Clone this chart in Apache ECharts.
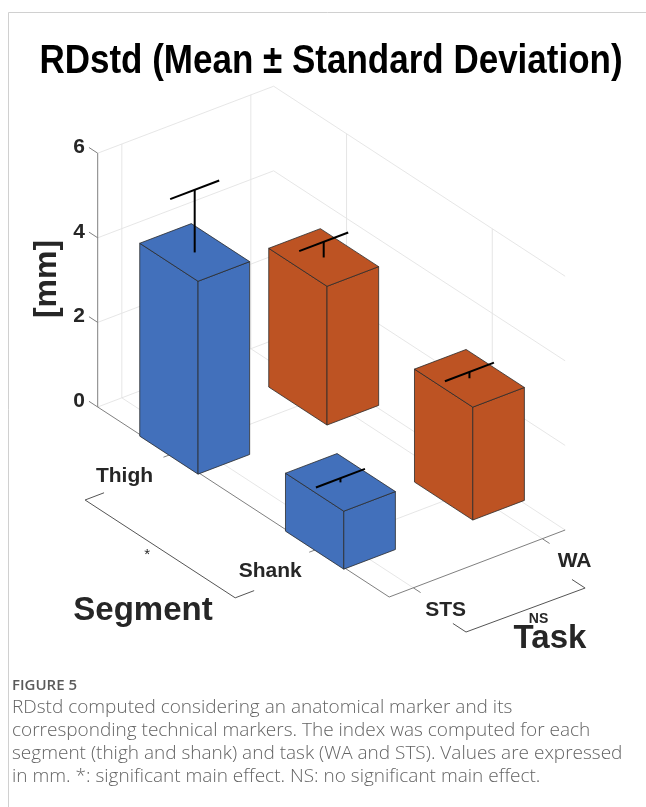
<!DOCTYPE html>
<html>
<head>
<meta charset="utf-8">
<script src="https://cdn.jsdelivr.net/npm/echarts@6/dist/echarts.min.js"></script>
<style>
  html, body { margin: 0; padding: 0; background: #fff; }
  #chart { width: 646px; height: 807px; }
</style>
</head>
<body>
<div id="chart"></div>
<script>
// ---- data -------------------------------------------------------------
const segments = ['Thigh', 'Shank'];
const tasks = ['STS', 'WA'];
// RDstd [mm]: mean and standard deviation, one entry per segment
const meanSTS = [4.56, 1.37];
const meanWA = [3.28, 2.67];
const sdSTS = [1.48, 0.10];
const sdWA = [0.37, 0.15];
const zTicks = [0, 2, 4, 6];

// ---- styling / layout -----------------------------------------------
const taskColors = ['#4270BB', '#BD5323'];
const AX_FONT = "'Liberation Sans', Arial, Helvetica, sans-serif";
const CAP_FONT = "'Open Sans', 'Noto Sans', sans-serif";
const TXT = '#262626';
const GRID_COLOR = '#e3e3e3';
const AXIS_COLOR = '#808080';

// 3D box: segment index runs front-left, task index runs back-right
const S_LIM = [0.5, 2.5];
const T_LIM = [0.813, 2.177];
const Z_LIM = [0, 6];
const BAR_W = 0.4;
const CAP_HALF = 0.19;
// screen offset of one unit step along each horizontal axis, in z units (x right, y up)
const S_VEC = [3.4456, -2.2459];
const T_VEC = [3.0496, 1.1608];
function proj(s, t, z) {
  const ds = s - S_LIM[0], dt = t - T_LIM[0];
  return [ds * S_VEC[0] + dt * T_VEC[0], ds * S_VEC[1] + dt * T_VEC[1] + z];
}
// pixel scale of one z unit and where the box origin sits on the canvas
const W = 646, H = 807, PX = 42.3, ORIGIN = [97.7, 407];

// bar table built from the arrays, ordered back to front
const bars = [];
segments.forEach((seg, si) => {
  bars.push([si + 1, 1, meanSTS[si], sdSTS[si], 0]);
  bars.push([si + 1, 2, meanWA[si], sdWA[si], 1]);
});
bars.sort((a, b) => (a[0] - a[1]) - (b[0] - b[1]));

function line(p, q, style) {
  return { type: 'line', shape: { x1: p[0], y1: p[1], x2: q[0], y2: q[1] }, style: style };
}
function text(str, x, y, opts) {
  return {
    type: 'text', x: x, y: y, rotation: opts.rotation || 0,
    style: Object.assign({
      text: str, fill: TXT, fontFamily: AX_FONT, fontWeight: 'bold',
      fontSize: 21, align: 'center', verticalAlign: 'middle'
    }, opts.style || {})
  };
}

function renderFrame(params, api) {
  const P = (s, t, z) => api.coord(proj(s, t, z));
  const [S0, S1] = S_LIM, [T0, T1] = T_LIM, [Z0, Z1] = Z_LIM;
  const g = { stroke: GRID_COLOR, lineWidth: 0.9 };
  const a = { stroke: AXIS_COLOR, lineWidth: 1 };
  const kids = [];
  const sTicks = segments.map((_, i) => i + 1);
  const tTicks = tasks.map((_, i) => i + 1);
  // floor grid
  sTicks.forEach(s => kids.push(line(P(s, T0, 0), P(s, T1, 0), g)));
  tTicks.forEach(t => kids.push(line(P(S0, t, 0), P(S1, t, 0), g)));
  // left wall
  zTicks.forEach(z => kids.push(line(P(S0, T0, z), P(S0, T1, z), g)));
  tTicks.forEach(t => kids.push(line(P(S0, t, Z0), P(S0, t, Z1), g)));
  // back wall
  zTicks.forEach(z => kids.push(line(P(S0, T1, z), P(S1, T1, z), g)));
  sTicks.forEach(s => kids.push(line(P(s, T1, Z0), P(s, T1, Z1), g)));
  // axis lines
  kids.push(line(P(S0, T0, Z0), P(S0, T0, Z1), a));
  kids.push(line(P(S0, T0, 0), P(S1, T0, 0), a));
  kids.push(line(P(S1, T0, 0), P(S1, T1, 0), a));
  // z ticks + labels
  zTicks.forEach(z => {
    const p = P(S0, T0, z), q = P(S0 - 0.06, T0, z);
    kids.push(line(p, q, a));
    kids.push(text(String(z), q[0] - 4, q[1], { style: { align: 'right' } }));
  });
  // segment ticks + labels
  sTicks.forEach((s, i) => {
    const p = P(s, T0, 0), q = P(s, T0 - 0.055, 0);
    kids.push(line(p, q, a));
    kids.push(text(segments[i], q[0] - 39, q[1] + 19, {}));
  });
  // task ticks + labels
  tTicks.forEach((t, i) => {
    const p = P(S1, t, 0), q = P(S1 + 0.05, t, 0);
    kids.push(line(p, q, a));
    kids.push(text(tasks[i], q[0] + 25, q[1] + 18, {}));
  });
  // significance brackets
  const br = { stroke: '#555', lineWidth: 1 };
  const b1 = P(1.086, 0.053, 0), b2 = P(2.116, 0.053, 0);
  kids.push({ type: 'polyline', shape: { points: [P(1.086, 0.2, 0), b1, b2, P(2.116, 0.2, 0)] }, style: Object.assign({ fill: null }, br) });
  const c1 = P(2.927, 0.926, 0), c2 = P(2.936, 1.839, 0);
  kids.push({ type: 'polyline', shape: { points: [P(2.837, 0.926, 0), c1, c2, P(2.846, 1.839, 0)] }, style: Object.assign({ fill: null }, br) });
  const bm = [(b1[0] + b2[0]) / 2, (b1[1] + b2[1]) / 2];
  kids.push(text('*', bm[0] - 13, bm[1] + 6, { style: { fontSize: 15, fontWeight: 'normal' } }));
  const cm = [(c1[0] + c2[0]) / 2, (c1[1] + c2[1]) / 2];
  kids.push(text('NS', cm[0] + 13, cm[1] + 9, { style: { fontSize: 14 } }));
  // axis titles
  kids.push(text('Segment', 143, 611, { style: { fontSize: 33 } }));
  kids.push(text('Task', 550, 639, { style: { fontSize: 33 } }));
  kids.push(text('[mm]', 47, 279, { rotation: Math.PI / 2, style: { fontSize: 32 } }));
  return { type: 'group', children: kids };
}

function renderBar(params, api) {
  const P = (s, t, z) => api.coord(proj(s, t, z));
  const s = api.value(0), t = api.value(1), m = api.value(2), sd = api.value(3);
  const color = taskColors[api.value(4)];
  const h = BAR_W / 2;
  const face = { fill: color, stroke: '#2b2b2b', lineWidth: 0.8, lineJoin: 'round' };
  const err = { stroke: '#000', lineWidth: 2 };
  const poly = pts => ({ type: 'polygon', shape: { points: pts }, style: face });
  const kids = [
    poly([P(s - h, t - h, 0), P(s + h, t - h, 0), P(s + h, t - h, m), P(s - h, t - h, m)]),
    poly([P(s + h, t - h, 0), P(s + h, t + h, 0), P(s + h, t + h, m), P(s + h, t - h, m)]),
    poly([P(s - h, t - h, m), P(s + h, t - h, m), P(s + h, t + h, m), P(s - h, t + h, m)]),
    line(P(s, t, m), P(s, t, m + sd), err),
    line(P(s, t - CAP_HALF, m + sd), P(s, t + CAP_HALF, m + sd), err)
  ];
  return { type: 'group', children: kids };
}

const captionLines = [
  'RDstd computed considering an anatomical marker and its',
  'corresponding technical markers. The index was computed for each',
  'segment (thigh and shank) and task (WA and STS). Values are expressed',
  'in mm. *: significant main effect. NS: no significant main effect.'
];
const graphics = [
  { type: 'line', shape: { x1: 8.5, y1: 12.5, x2: W, y2: 12.5 }, style: { stroke: '#d0d0d0', lineWidth: 1 } },
  { type: 'line', shape: { x1: 8.5, y1: 12.5, x2: 8.5, y2: H }, style: { stroke: '#d0d0d0', lineWidth: 1 } },
  { type: 'text', x: 331, y: 62, scaleY: 1.15, style: { text: 'RDstd (Mean \u00B1 Standard Deviation)', fill: '#000', font: "bold 35px 'Liberation Sans', Arial, sans-serif", align: 'center', verticalAlign: 'middle' } },
  { type: 'text', x: 12, y: 686, style: { text: 'FIGURE 5', fill: '#5a5a5a', font: "600 15px " + CAP_FONT, align: 'left', verticalAlign: 'middle' } }
];
captionLines.forEach((ln, i) => graphics.push({
  type: 'text', x: 12, y: 708 + 23 * i,
  style: { text: ln, fill: '#646464', font: "300 19px " + CAP_FONT, align: 'left', verticalAlign: 'middle' }
}));

const chart = echarts.init(document.getElementById('chart'), null, { renderer: 'canvas' });
chart.setOption({
  animation: false,
  backgroundColor: '#fff',
  grid: { left: 0, right: 0, top: 0, bottom: 0 },
  xAxis: { type: 'value', min: -ORIGIN[0] / PX, max: (W - ORIGIN[0]) / PX, show: false },
  yAxis: { type: 'value', min: -(H - ORIGIN[1]) / PX, max: ORIGIN[1] / PX, show: false },
  graphic: graphics,
  series: [
    { type: 'custom', coordinateSystem: 'cartesian2d', renderItem: renderFrame, data: [[0, 0]], silent: true, z: 1 },
    { type: 'custom', coordinateSystem: 'cartesian2d', renderItem: renderBar, data: bars, silent: true, z: 2 }
  ]
});
</script>
</body>
</html>
